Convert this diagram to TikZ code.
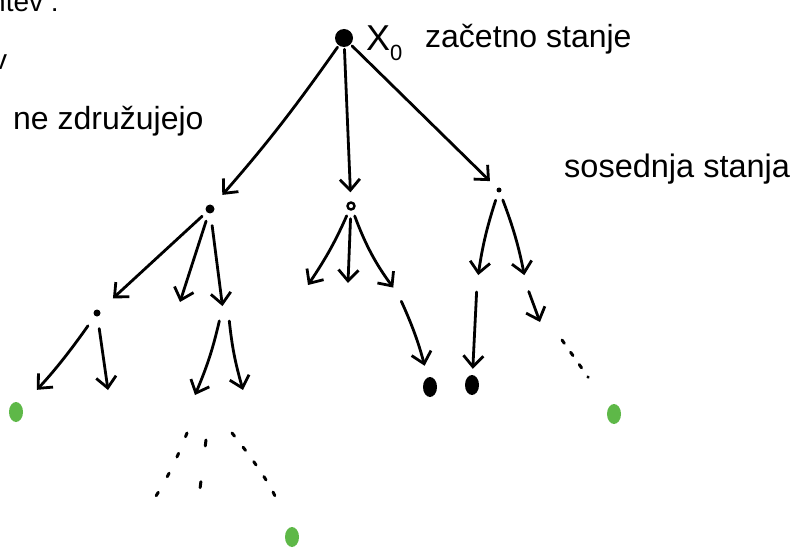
\documentclass[tikz,border=0pt]{standalone}
\usepackage{fontspec}
\setmainfont{Liberation Sans}
\usetikzlibrary{arrows.meta, shapes.geometric}
\definecolor{goalgreen}{HTML}{5EB848}

\begin{document}
\begin{tikzpicture}[
    x=1pt, y=-1pt,
    vertex/.style={circle, fill, inner sep=0pt, minimum size=#1},
    leaf/.style={ellipse, fill, inner sep=0pt, minimum width=14pt, minimum height=20pt},
    goal/.style={leaf, fill=goalgreen},
    line/.style={draw, line width=2.8pt, line cap=round, -{Straight Barb[length=11pt, width=20pt, line width=2.8pt]}},
    trail/.style={draw, line width=3pt, line cap=round, dash pattern=on 4pt off 18pt},
    hand/.style={font=\fontsize{32}{36}\selectfont, anchor=base west, inner sep=0pt}
]
\useasboundingbox (0,0) rectangle (798,548);

% notes around the tree
\node [hand, font=\fontsize{28}{30}\selectfont] (head) at (-10,12) {ntev :};
\node [hand, font=\fontsize{28}{30}\selectfont] (cut) at (-7,70) {v};
\node [hand] (merge) at (13,130) {ne združujejo};

% initial state
\node [vertex=18pt] (root) at (344,38) {};
\node [hand, font=\fontsize{36}{38}\selectfont] (xlabel) at (366,51) {X\raisebox{-10pt}{\fontsize{22}{22}\selectfont 0}};
\node [hand] (start) at (425,48) {začetno stanje};
\node [hand, font=\fontsize{32.5}{36}\selectfont] (neigh) at (564,178) {sosednja stanja};

% first level
\node [vertex=9pt] (n1) at (210,209) {};
\node [vertex=7pt, draw, fill=white, line width=2.4pt] (n2) at (351,206) {};
\node [vertex=5pt] (n3) at (499,190) {};

\path [line, shorten >=14pt, shorten <=2pt] (root) to[bend left=3] (n1);
\path [line, shorten >=9pt, shorten <=2pt] (root) -- (n2);
\path [line, shorten >=10pt, shorten <=2pt] (root) -- (n3);

% second level
\node [vertex=7pt] (n11) at (97,313) {};
\coordinate (n12) at (180,302);
\coordinate (n13) at (224,318);
\coordinate (n21) at (308,285);
\coordinate (n22) at (348,283);
\coordinate (n23) at (398,294);
\coordinate (n31) at (477,284);
\coordinate (n32) at (526,284);

\path [line, shorten >=18pt, shorten <=6pt] (n1) -- (n11);
\path [line, shorten <=8pt] (n1) -- (n12);
\path [line, shorten >=12pt, shorten <=12pt] ([xshift=16pt]n1) -- (n13);
\path [line, shorten <=6pt] ([xshift=-6pt]n2) to[bend left=5] (n21);
\path [line, shorten <=8pt] ([xshift=3pt]n2) -- (n22);
\path [line, shorten >=8pt, shorten <=6pt] ([xshift=12pt]n2) to[bend right=8] (n23);
\path [line, shorten >=9pt, shorten <=8pt] (n3) to[bend right=5] (n31);
\path [line, shorten >=9pt, shorten <=8pt] ([xshift=5pt]n3) to[bend left=5] (n32);

% third level
\node [goal] (g1) at (16,412) {};
\coordinate (n112) at (108,390);
\coordinate (n131) at (195,395);
\coordinate (n132) at (243,390);
\node [leaf] (b1) at (430,387) {};
\node [leaf] (b2) at (472,385) {};
\coordinate (n321) at (540,322);

\path [line, shorten >=22pt, shorten <=12pt] (n11) to[bend left=4] (g1);
\path [line, shorten <=12pt] (n11) -- (n112);
\path [line, shorten <=3pt] ([xshift=-4pt]n13) to[bend left=5] (n131);
\path [line, shorten <=3pt] ([xshift=5pt]n13) to[bend right=5] (n132);
\path [line, shorten >=12pt, shorten <=8pt] (n23) to[bend left=5] (b1);
\path [line, shorten >=6pt, shorten <=8pt] (n31) -- (b2);
\path [line, shorten <=8pt] (n32) -- (n321);

% deeper search, left unfinished
\node [goal] (g2) at (614,414) {};
\node [goal] (g3) at (292,537) {};
\coordinate (r1) at (562,340);
\coordinate (la) at (187,433);
\coordinate (lb) at (147,510);
\coordinate (ma) at (206,440);
\coordinate (mb) at (199,497);
\coordinate (ra) at (232,433);

\path [trail, dash pattern=on 4pt off 11pt, shorten >=36pt] (r1) -- (g2);
\path [trail] (la) to[bend left=6] (lb);
\path [trail, dash pattern=on 6pt off 36pt] (ma) -- (mb);
\path [trail, dash pattern=on 4pt off 14pt, shorten >=34pt] (ra) to[bend left=8] (g3);
\end{tikzpicture}
\end{document}
